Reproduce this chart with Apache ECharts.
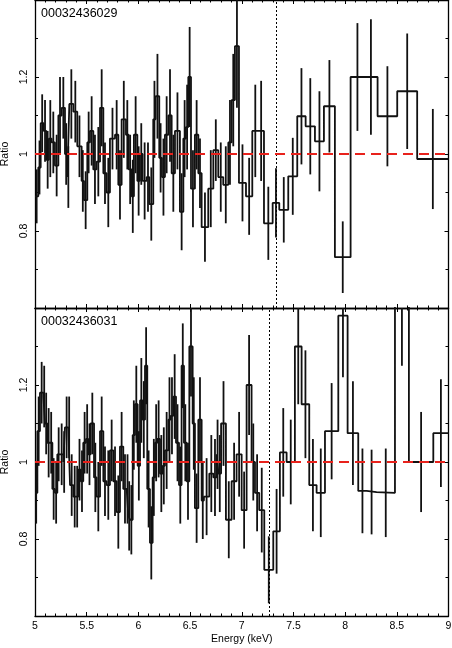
<!DOCTYPE html>
<html>
<head>
<meta charset="utf-8">
<script src="https://cdn.jsdelivr.net/npm/echarts@6/dist/echarts.min.js"></script>
<style>
  html, body { margin: 0; padding: 0; background: #fff; }
  #chart { width: 452px; height: 648px; }
</style>
</head>
<body>
<div id="chart"></div>
<script>
// observation ids shown in each panel
const obsIds = ['00032436029', '00032436031'];
// energy of the dotted vertical marker in each panel (keV)
const markerE = [7.33, 7.27];

// top panel: bin edges (keV), data/model ratio, 1-sigma error
const topEdges = [5.000, 5.032, 5.055, 5.084, 5.110, 5.135, 5.161, 5.193, 5.226, 5.258,
  5.290, 5.313, 5.332, 5.371, 5.409, 5.451, 5.474, 5.506, 5.532, 5.564,
  5.596, 5.629, 5.661, 5.693, 5.725, 5.774, 5.806, 5.838, 5.880, 5.906,
  5.935, 5.957, 5.990, 6.015, 6.041, 6.080, 6.106, 6.144, 6.167, 6.202,
  6.228, 6.257, 6.290, 6.322, 6.354, 6.402, 6.435, 6.460, 6.483, 6.509,
  6.547, 6.580, 6.612, 6.676, 6.725, 6.773, 6.821, 6.870, 6.902, 6.934,
  6.973, 7.041, 7.102, 7.160, 7.215, 7.299, 7.363, 7.450, 7.537, 7.618,
  7.708, 7.795, 7.901, 8.053, 8.185, 8.314, 8.504, 8.697, 9.000];
const topRatio = [0.89, 0.965, 1.08, 1.06, 0.985, 1.04, 1.03, 0.97, 1.10, 1.12,
  1.00, 0.94, 1.13, 1.11, 1.02, 0.93, 0.88, 1.03, 1.06, 0.96,
  0.98, 1.12, 0.95, 0.90, 1.04, 1.05, 0.92, 1.09, 1.05, 0.96,
  0.89, 1.05, 0.93, 1.00, 0.93, 0.94, 0.87, 1.09, 1.15, 0.99,
  0.94, 1.05, 1.10, 0.95, 1.06, 0.85, 1.04, 1.07, 1.20, 0.91,
  1.05, 0.95, 0.81, 0.91, 1.01, 0.94, 0.92, 1.03, 1.14, 1.28,
  0.925, 0.89, 1.06, 1.06, 0.82, 0.873, 0.855, 0.942, 1.098, 1.072,
  1.033, 1.124, 0.732, 1.20, 1.20, 1.098, 1.163, 0.987];
const topErr = [0.07, 0.07, 0.075, 0.08, 0.075, 0.1, 0.08, 0.08, 0.1, 0.08,
  0.08, 0.08, 0.09, 0.08, 0.08, 0.08, 0.075, 0.08, 0.09, 0.09,
  0.09, 0.1, 0.08, 0.09, 0.08, 0.09, 0.09, 0.1, 0.09, 0.09,
  0.095, 0.1, 0.09, 0.08, 0.1, 0.09, 0.095, 0.1, 0.11, 0.09,
  0.1, 0.1, 0.12, 0.1, 0.1, 0.1, 0.1, 0.11, 0.13, 0.1,
  0.09, 0.09, 0.09, 0.1, 0.08, 0.09, 0.1, 0.11, 0.12, 0.16,
  0.1, 0.1, 0.12, 0.13, 0.095, 0.09, 0.085, 0.1, 0.125, 0.125,
  0.13, 0.12, 0.093, 0.14, 0.15, 0.13, 0.15, 0.13];

// bottom panel
const botEdges = [5.000, 5.023, 5.048, 5.081, 5.097, 5.119, 5.145, 5.168, 5.193, 5.216,
  5.242, 5.274, 5.290, 5.322, 5.339, 5.371, 5.397, 5.419, 5.442, 5.467,
  5.493, 5.516, 5.538, 5.571, 5.596, 5.629, 5.661, 5.693, 5.725, 5.758,
  5.790, 5.822, 5.854, 5.887, 5.903, 5.919, 5.945, 5.967, 5.993, 6.016,
  6.041, 6.064, 6.086, 6.112, 6.138, 6.161, 6.183, 6.209, 6.235, 6.257,
  6.290, 6.312, 6.338, 6.364, 6.393, 6.418, 6.441, 6.467, 6.493, 6.525,
  6.547, 6.580, 6.612, 6.634, 6.686, 6.725, 6.757, 6.775, 6.800, 6.847,
  6.902, 6.950, 6.999, 7.047, 7.095, 7.128, 7.169, 7.218, 7.305, 7.369,
  7.434, 7.514, 7.579, 7.653, 7.724, 7.805, 7.934, 8.024, 8.127, 8.208,
  8.304, 8.482, 8.617, 8.853, 9.000];
const botRatio = [0.92, 1.08, 1.18, 1.17, 1.10, 1.05, 1.05, 0.93, 0.92, 1.02,
  1.02, 1.00, 1.09, 1.09, 0.94, 0.91, 0.91, 0.98, 0.95, 1.05,
  1.06, 1.02, 1.10, 0.96, 0.91, 1.08, 0.95, 0.94, 1.03, 0.95,
  0.87, 1.04, 0.93, 0.93, 0.86, 0.85, 1.07, 1.15, 0.99, 1.16,
  1.11, 1.25, 0.93, 0.79, 0.96, 1.05, 1.06, 0.97, 0.99, 1.03,
  1.11, 1.12, 1.17, 1.05, 0.94, 1.25, 1.05, 0.95, 1.30, 1.10,
  0.88, 1.11, 0.90, 0.91, 0.97, 0.96, 1.02, 0.97, 1.10, 0.85,
  0.95, 1.02, 0.875, 1.20, 1.00, 0.92, 0.875, 0.72, 0.82, 1.025,
  1.00, 1.30, 1.15, 0.94, 0.92, 1.08, 1.38, 1.075, 0.925, 0.922,
  0.92, 1.46, 1.00, 1.075];
const botErr = [0.08, 0.09, 0.08, 0.08, 0.08, 0.09, 0.08, 0.08, 0.08, 0.07,
  0.08, 0.08, 0.08, 0.08, 0.08, 0.08, 0.08, 0.08, 0.08, 0.08,
  0.09, 0.08, 0.08, 0.09, 0.09, 0.09, 0.09, 0.09, 0.08, 0.09,
  0.095, 0.09, 0.09, 0.09, 0.09, 0.09, 0.09, 0.1, 0.09, 0.11,
  0.1, 0.1, 0.1, 0.095, 0.1, 0.1, 0.1, 0.1, 0.1, 0.1,
  0.11, 0.1, 0.11, 0.1, 0.1, 0.11, 0.1, 0.1, 0.13, 0.12,
  0.09, 0.11, 0.1, 0.1, 0.1, 0.1, 0.09, 0.1, 0.11, 0.1,
  0.1, 0.11, 0.1, 0.13, 0.1, 0.1, 0.11, 0.087, 0.11, 0.115,
  0.11, 0.15, 0.14, 0.12, 0.115, 0.125, 0.16, 0.135, 0.11, 0.11,
  0.115, 0.21, 0.13, 0.14];

const FONT = 'Liberation Sans';
const INK = '#111';

function stepPoints(edges, ratio) {
  let pts = ratio.map((r, i) => [edges[i], r]);
  pts.push([edges[edges.length - 1], ratio[ratio.length - 1]]);
  return pts;
}
function errPoints(edges, ratio, err) {
  return ratio.map((r, i) => [(edges[i] + edges[i + 1]) / 2, r - err[i], r + err[i]]);
}

function xAx(grid, pos, labels) {
  return {
    type: 'value', gridIndex: grid, position: pos, min: 5, max: 9, interval: 0.5,
    name: labels ? 'Energy (keV)' : '', nameLocation: 'middle', nameGap: 18,
    nameTextStyle: { fontFamily: FONT, fontSize: 10.5, color: '#000' },
    axisLine: { onZero: false, lineStyle: { color: '#000', width: 1.3 } },
    axisTick: { inside: true, length: 4, lineStyle: { color: '#000', width: 1 } },
    minorTick: { show: true, splitNumber: 5, length: 2.5, lineStyle: { color: '#000', width: 1 } },
    axisLabel: { show: labels, margin: 5, fontFamily: FONT, fontSize: 10.5, color: '#000' },
    splitLine: { show: false }
  };
}
function yAx(grid, pos, labels) {
  return {
    type: 'value', gridIndex: grid, position: pos, min: 0.6, max: 1.4, interval: 0.2,
    name: labels ? 'Ratio' : '', nameLocation: 'middle', nameRotate: 90, nameGap: 24,
    nameTextStyle: { fontFamily: FONT, fontSize: 10.5, color: '#000' },
    axisLine: { onZero: false, lineStyle: { color: '#000', width: 1.3 } },
    axisTick: { inside: true, length: 4, lineStyle: { color: '#000', width: 1 } },
    minorTick: { show: true, splitNumber: 2, length: 3, lineStyle: { color: '#000', width: 1 } },
    axisLabel: { show: labels, rotate: 90, margin: 5, showMinLabel: false, showMaxLabel: false,
      fontFamily: FONT, fontSize: 10.5, color: '#000' },
    splitLine: { show: false }
  };
}

function errorBars(grid, data, marker) {
  return {
    type: 'custom', xAxisIndex: grid * 2, yAxisIndex: grid * 2, clip: true,
    data: data, encode: { x: 0, y: [1, 2] },
    renderItem: function (params, api) {
      let a = api.coord([api.value(0), api.value(1)]);
      let b = api.coord([api.value(0), api.value(2)]);
      return { type: 'line', shape: { x1: a[0], y1: a[1], x2: b[0], y2: b[1] },
        style: { stroke: INK, lineWidth: 1.8 } };
    },
    markLine: {
      silent: true, symbol: ['none', 'none'], label: { show: false },
      data: [
        { xAxis: marker, lineStyle: { color: '#000', width: 1, type: [2, 2] } },
        { yAxis: 1, lineStyle: { color: '#e8221c', width: 2, type: [10, 6] } }
      ]
    }
  };
}
function stepLine(grid, data) {
  return {
    type: 'line', xAxisIndex: grid * 2, yAxisIndex: grid * 2, step: 'end', symbol: 'none',
    clip: true, data: data, lineStyle: { color: INK, width: 1.8 }
  };
}

let chart = echarts.init(document.getElementById('chart'));
let option = {
  animation: false,
  backgroundColor: '#fff',
  grid: [
    { left: 35, right: 3.5, top: 0, height: 308, containLabel: false, outerBoundsMode: 'none' },
    { left: 35, right: 3.5, top: 308, height: 308, containLabel: false, outerBoundsMode: 'none' }
  ],
  xAxis: [xAx(0, 'bottom', false), xAx(0, 'top', false), xAx(1, 'bottom', true), xAx(1, 'top', false)],
  yAxis: [yAx(0, 'left', true), yAx(0, 'right', false), yAx(1, 'left', true), yAx(1, 'right', false)],
  graphic: [
    { type: 'text', left: 41, top: 7, style: { text: obsIds[0], fontFamily: FONT, fontSize: 12.5, fill: '#000' } },
    { type: 'text', left: 41, top: 315, style: { text: obsIds[1], fontFamily: FONT, fontSize: 12.5, fill: '#000' } }
  ],
  series: [
    stepLine(0, stepPoints(topEdges, topRatio)),
    errorBars(0, errPoints(topEdges, topRatio, topErr), markerE[0]),
    stepLine(1, stepPoints(botEdges, botRatio)),
    errorBars(1, errPoints(botEdges, botRatio, botErr), markerE[1])
  ]
};
chart.setOption(option);
</script>
</body>
</html>
